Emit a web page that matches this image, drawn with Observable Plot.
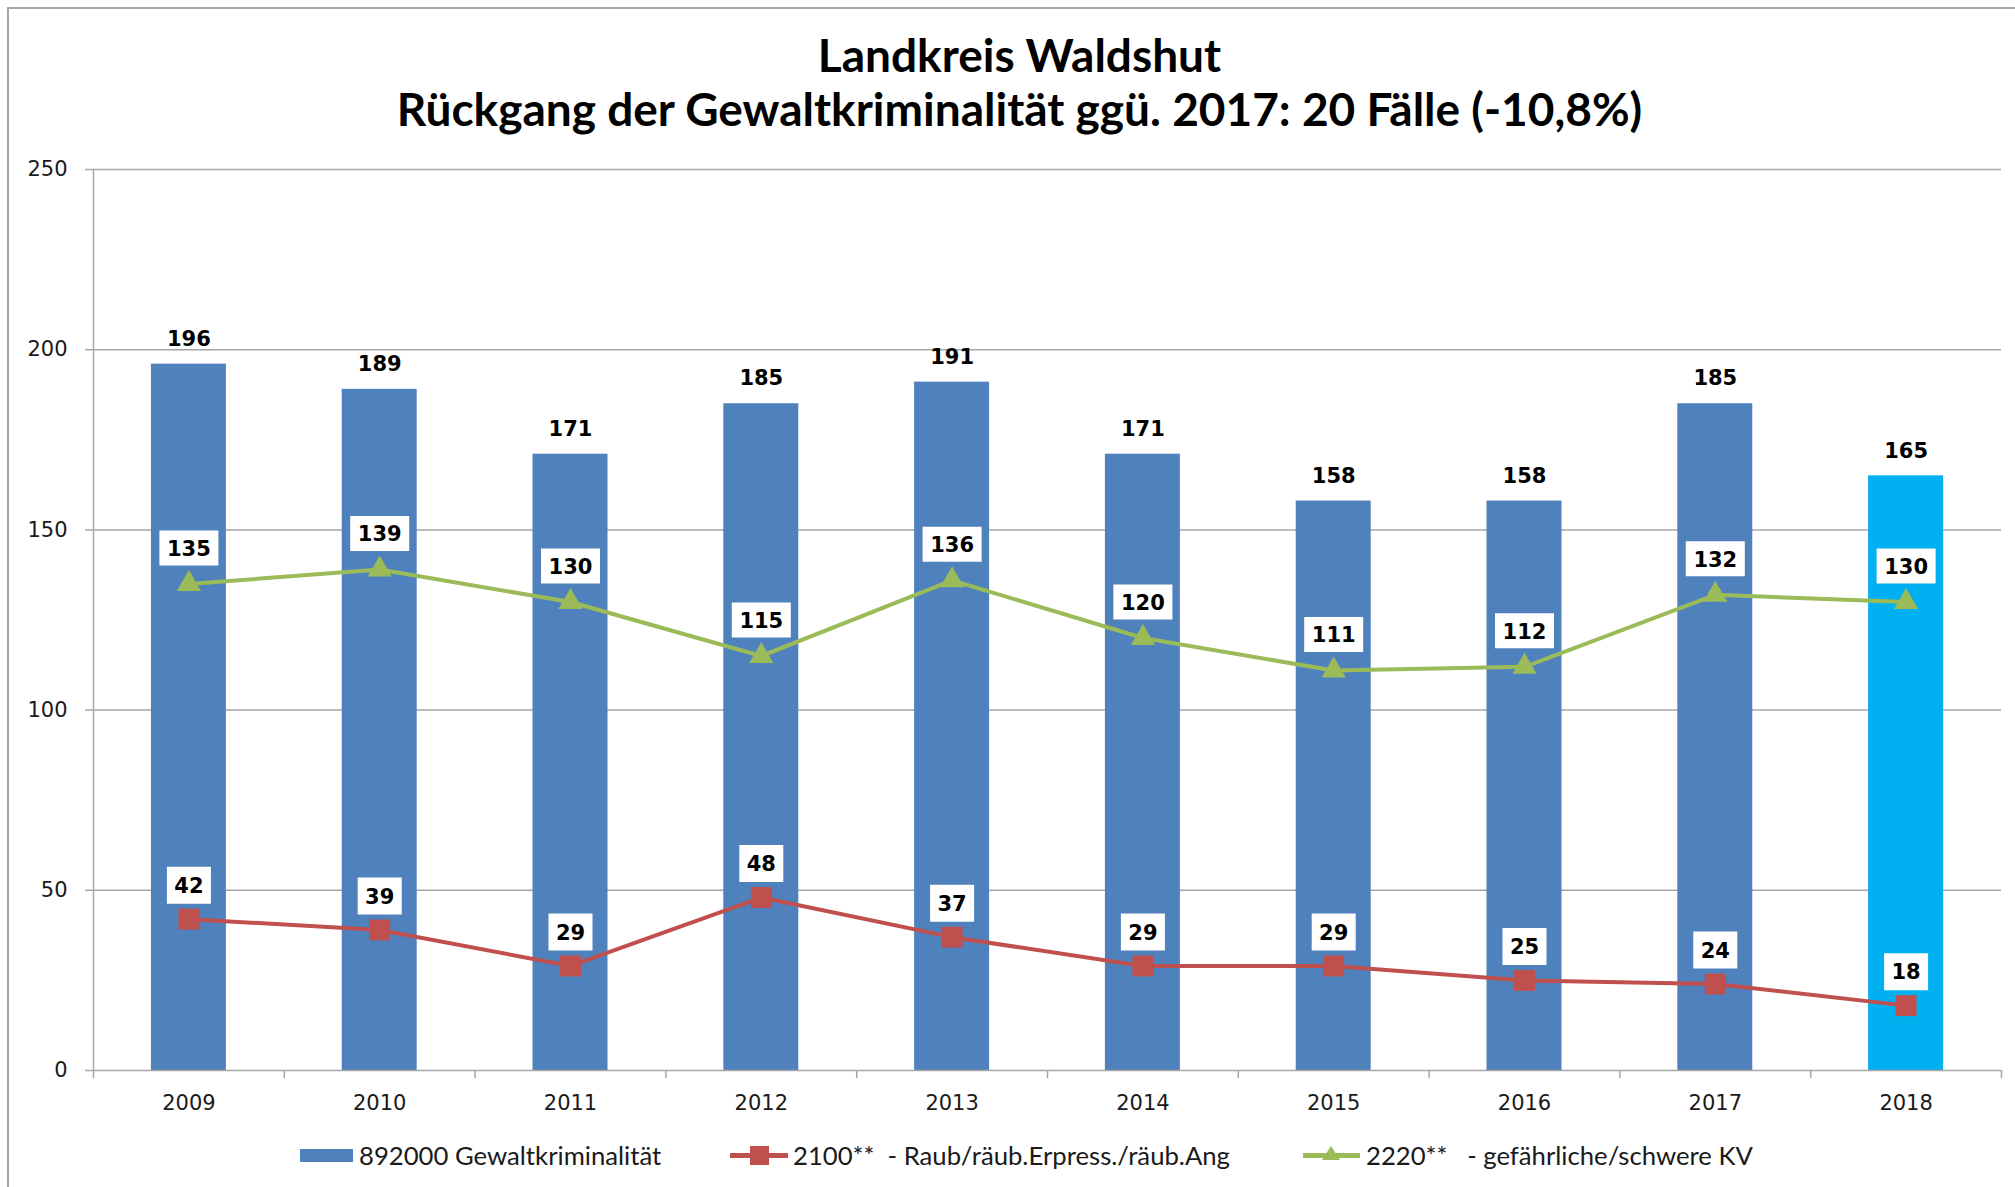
<!DOCTYPE html>
<html><head><meta charset="utf-8">
<script src="https://cdn.jsdelivr.net/npm/d3@7"></script>
<script src="https://cdn.jsdelivr.net/npm/@observablehq/plot@0.6"></script>
<style>
html,body{margin:0;padding:0;background:#fff;overflow:hidden;width:2015px;height:1187px;}
#frame{position:absolute;left:7px;top:7px;width:2100px;height:1300px;border:2px solid #a6a6a6;box-sizing:border-box;}
#title{position:absolute;left:0;top:28px;width:2039px;text-align:center;font-family:Lato,"Open Sans",sans-serif;font-weight:700;font-size:46px;line-height:54px;color:#000;}
#chart{position:absolute;left:0;top:130px;}
.lg{position:absolute;}
.lgt{position:absolute;top:1140px;height:30px;line-height:30px;font-family:Lato,"Open Sans",sans-serif;font-size:25.7px;color:#1a1a1a;white-space:pre;}
</style>
</head><body>
<div id="frame"></div>
<div id="title">Landkreis Waldshut<br>Rückgang der Gewaltkriminalität ggü. 2017: 20 Fälle (-10,8%)</div>
<div id="chart"></div>
<div class="lg" style="left:300px;top:1149px;width:53px;height:13px;background:#4F81BD"></div>
<div class="lgt" style="left:359px">892000 Gewaltkriminalität</div>
<div class="lg" style="left:730px;top:1153px;width:58px;height:5px;background:#C0504D"></div>
<div class="lg" style="left:750px;top:1146px;width:19px;height:19px;background:#C0504D"></div>
<div class="lgt" style="left:793px">2100**  - Raub/räub.Erpress./räub.Ang</div>
<div class="lg" style="left:1303px;top:1153px;width:57px;height:5px;background:#9BBB59"></div>
<div class="lg" style="left:1322px;top:1146px;width:0;height:0;border-left:9px solid transparent;border-right:9px solid transparent;border-bottom:14px solid #9BBB59"></div>
<div class="lgt" style="left:1366px">2220**   - gefährliche/schwere KV</div>
<script>
const years = ["2009","2010","2011","2012","2013","2014","2015","2016","2017","2018"];
const gewalt = [196,189,171,185,191,171,158,158,185,165];
const raub = [42,39,29,48,37,29,29,25,24,18];
const kv = [135,139,130,115,136,120,111,112,132,130];
const yTicks = [0,50,100,150,200,250];
const highlightYear = "2018";

const rows = years.map((y,i)=>({year:y, gewalt:gewalt[i], raub:raub[i], kv:kv[i]}));

const W = 2015, H = 1000, mL = 93, mR = 14, mT = 39, mB = 60;
const step = (W - mL - mR) / years.length;
const boxSymbol = (w,h) => ({draw(ctx){ ctx.rect(-w/2,-h/2,w,h); }});
const labelFont = {fontFamily:"DejaVu Sans", fontWeight:"bold", fontSize:21, fill:"#000"};
const gray = "#a6a6a6";

const chart = Plot.plot({
  width: W, height: H,
  marginLeft: mL, marginRight: mR, marginTop: mT, marginBottom: mB,
  style: {background:"transparent", color:"#000", overflow:"visible"},
  x: {type:"band", domain: years, paddingInner: 0.607, paddingOuter: 0.3035, round: false, axis: null},
  y: {domain:[0,250], axis: null},
  color: {type:"identity"},
  marks: [
    Plot.ruleY(yTicks.filter(d=>d>0), {stroke: gray, strokeWidth: 1.5}),
    Plot.axisY(yTicks, {tickSize: 8, tickPadding: 18, stroke: gray, strokeWidth:1.5, fill:"#1a1a1a", fontSize: 21, fontFamily:"DejaVu Sans", label: null}),
    Plot.axisX({tickSize: 0, tickPadding: 25, fill:"#1a1a1a", fontSize: 21, fontFamily:"DejaVu Sans", label: null}),
    Plot.barY(rows, {x:"year", y:"gewalt", fill: d => d.year === highlightYear ? "#00B0F0" : "#4F81BD"}),
    Plot.ruleY([0], {stroke: gray, strokeWidth: 1.5}),
    Plot.ruleX([years[0]], {x: d=>d, dx: -step/2, y1: 0, y2: 250, stroke: gray, strokeWidth: 1.5}),
    Plot.ruleX(years, {x: d=>d, dx: -step/2, y1: 0, y2: 0, insetBottom: -8, stroke: gray, strokeWidth: 1.5}),
    Plot.ruleX([years[years.length-1]], {x: d=>d, dx: step/2, y1: 0, y2: 0, insetBottom: -8, stroke: gray, strokeWidth: 1.5}),
    Plot.text(rows, {x:"year", y:"gewalt", text: d=>String(d.gewalt), dy: -25, ...labelFont}),
    Plot.line(rows, {x:"year", y:"raub", stroke:"#C0504D", strokeWidth: 4}),
    Plot.dot(rows, {x:"year", y:"raub", symbol:"square", r: 11.8, fill:"#C0504D"}),
    Plot.line(rows, {x:"year", y:"kv", stroke:"#9BBB59", strokeWidth: 4}),
    Plot.dot(rows, {x:"year", y:"kv", symbol:"triangle", r: 9, fill:"#9BBB59"}),
    Plot.dot(rows, {x:"year", y:"raub", symbol: boxSymbol(44,37), r: 5, fill:"#fff", dy: -34}),
    Plot.text(rows, {x:"year", y:"raub", text: d=>String(d.raub), dy: -33, ...labelFont}),
    Plot.dot(rows, {x:"year", y:"kv", symbol: boxSymbol(59,35), r: 5, fill:"#fff", dy: -36}),
    Plot.text(rows, {x:"year", y:"kv", text: d=>String(d.kv), dy: -35, ...labelFont})
  ]
});
document.getElementById("chart").appendChild(chart);
</script>
</body></html>
